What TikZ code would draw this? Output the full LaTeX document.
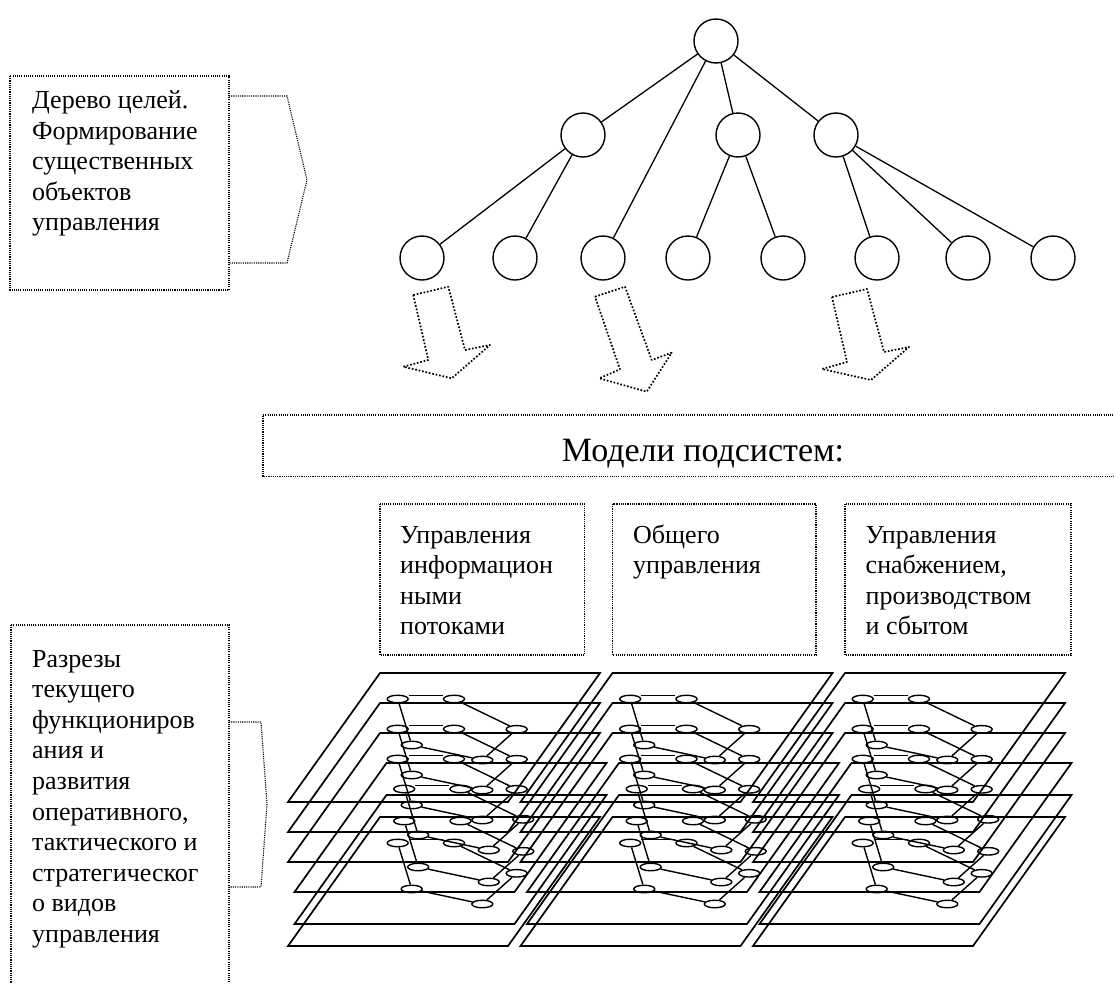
\documentclass[tikz,border=0pt]{standalone}
\usepackage{fontspec}
\setmainfont{Liberation Serif}
\usetikzlibrary{shapes.geometric}
\begin{document}
\begin{tikzpicture}[x=1pt,y=-1pt,
  tc/.style={circle,draw,line width=1.4pt,minimum size=44pt,inner sep=0pt},
  en/.style={ellipse,draw,line width=1.4pt,minimum width=21pt,minimum height=7.5pt,inner sep=0pt},
  pl/.style={line width=1.7pt,line join=miter},
  ed/.style={line width=1.4pt},
  te/.style={line width=1.3pt},
  fd/.style={line width=1.1pt,dash pattern=on 1.1pt off 1.1pt},
  ad/.style={line width=1.7pt,dash pattern=on 1.7pt off 1.8pt,line join=round},
  txt/.style={inner sep=0pt,anchor=base west,font=\fontsize{26}{30.6}\selectfont}
]
\useasboundingbox (0,0) rectangle (1114,983);
\clip (0,0) rectangle (1114,983);

% goal tree
\node[tc] (r) at (716,41) {};
\node[tc] (m1) at (583,135) {};
\node[tc] (m2) at (738,135) {};
\node[tc] (m3) at (836,135) {};
\foreach \i/\x in {1/422,2/515,3/603,4/688,5/783,6/877,7/968,8/1053}
  \node[tc] (l\i) at (\x,258) {};
\draw[te] (r) -- (m1);
\draw[te] (r) -- (l3);
\draw[te] (r) -- (m2);
\draw[te] (r) -- (m3);
\draw[te] (m1) -- (l1);
\draw[te] (m1) -- (l2);
\draw[te] (m2) -- (l4);
\draw[te] (m2) -- (l5);
\draw[te] (m3) -- (l6);
\draw[te] (m3) -- (l7);
\draw[te] (m3) -- (l8);

% left callouts
\draw[fd] (10,76) rectangle (229,290);
\draw[fd] (229,96) -- (287,96) -- (307,180) -- (287,263) -- (229,263);
\node[txt] (t1) at (32,108.5) {\parbox[t]{200pt}{\raggedright Дерево целей.\\Формирование\\существенных\\объектов\\управления}};

\draw[fd] (11,625) rectangle (229,995);
\draw[fd] (229,722) -- (261,722) -- (267,804) -- (261,887) -- (229,887);
\node[txt] (t2) at (32,667) {\parbox[t]{200pt}{\raggedright Разрезы\\текущего\\функциониров\\ания и\\развития\\оперативного,\\тактического и\\стратегическог\\о видов\\управления}};

% down arrows
\draw[ad] (413.3,295) -- (448.3,286.7) -- (465,350) -- (490,345) -- (451.7,378.3) -- (403.3,366.7) -- (428.3,360) -- cycle;
\draw[ad] (595,296.7) -- (625,286.7) -- (651.7,360) -- (671.7,352.7) -- (646.7,391.7) -- (599.3,378.3) -- (620,369.3) -- cycle;
\draw[ad] (832,297) -- (867,289) -- (884,352) -- (909,347) -- (871,380) -- (822,369) -- (847,362) -- cycle;

% models box
\draw[fd] (1120,415) -- (263,415) -- (263,476.5) -- (1120,476.5);
\node[inner sep=0pt,anchor=base,font=\fontsize{34}{38}\selectfont] (mt) at (703,461) {Модели подсистем:};

% subsystem boxes
\draw[fd] (380,504) rectangle (584.5,655);
\draw[fd] (612.5,504) rectangle (816,655);
\draw[fd] (845,504) rectangle (1071,655);
\node[txt] (s1) at (400,543) {\parbox[t]{190pt}{\raggedright Управления\\информацион\\ными\\потоками}};
\node[txt] (s2) at (633,543) {\parbox[t]{190pt}{\raggedright Общего\\управления}};
\node[txt] (s3) at (865.5,543) {\parbox[t]{200pt}{\raggedright Управления\\снабжением,\\производством\\и сбытом}};

% stacked planes with graphs
\foreach \c/\cx in {0/0,1/232.5,2/465} {
  \foreach \k/\dx/\yt in {1/0/673,2/0/703,3/0/733,4/6.5/763,5/6.5/795,6/0/817} {
    \pgfmathsetmacro\xo{380+\cx+\dx}
    \draw[pl] (\xo,\yt) -- ++(220,0) -- ++(-92,129) -- ++(-220,0) -- cycle;
    \node[en] (a\c\k) at (\xo+17.7,\yt+26) {};
    \node[en] (b\c\k) at (\xo+74,\yt+26) {};
    \node[en] (c\c\k) at (\xo+136.7,\yt+56.3) {};
    \node[en] (d\c\k) at (\xo+31.7,\yt+72) {};
    \node[en] (e\c\k) at (\xo+102.3,\yt+87) {};
    \draw[ed] ([yshift=3.6pt]a\c\k.east) -- ([yshift=3.6pt]b\c\k.west);
    \draw[ed] (b\c\k) -- (c\c\k);
    \draw[ed] (a\c\k) -- (d\c\k);
    \draw[ed] (d\c\k) -- (e\c\k);
    \draw[ed] (e\c\k) -- (c\c\k);
  }
}
\end{tikzpicture}
\end{document}
